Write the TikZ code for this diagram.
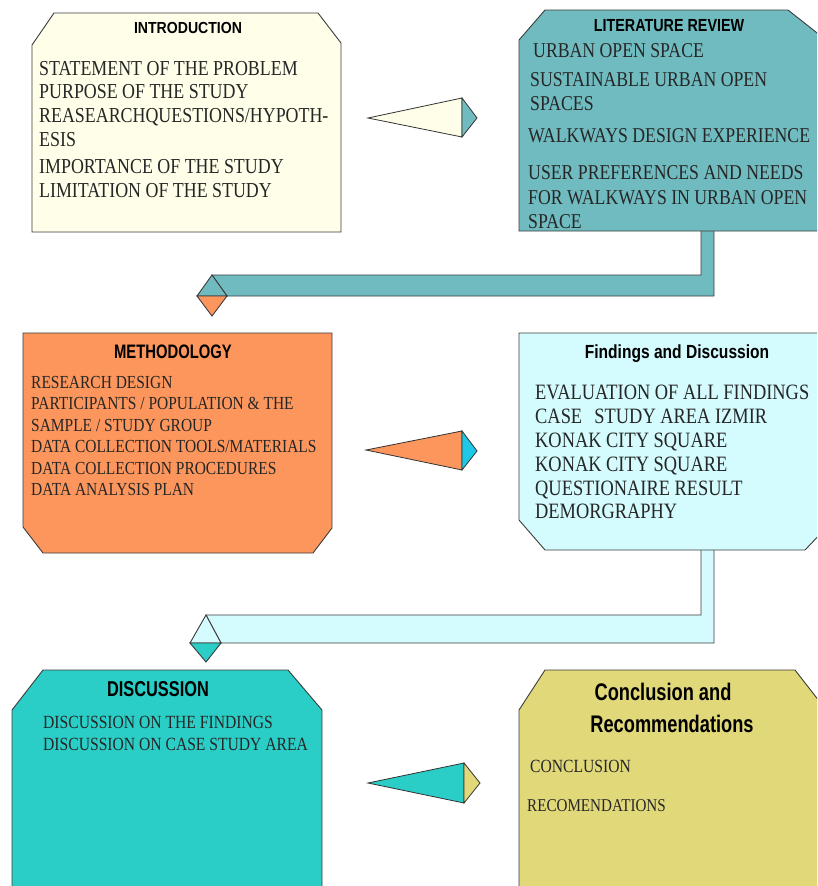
\documentclass[tikz,border=0pt]{standalone}
\usepackage{fontspec}
\setmainfont{Liberation Serif}
\newfontfamily\bodyfont[FakeStretch=0.84]{Liberation Serif}
\newfontfamily\ttlA[FakeStretch=0.88]{Liberation Sans}
\newfontfamily\ttlB[FakeStretch=0.82]{Liberation Sans}
\newfontfamily\ttlC[FakeStretch=0.76]{Liberation Sans}
\definecolor{cream}{RGB}{255,254,232}
\definecolor{tealc}{RGB}{112,187,192}
\definecolor{orangec}{RGB}{252,150,92}
\definecolor{lcyan}{RGB}{212,251,253}
\definecolor{turq}{RGB}{42,206,198}
\definecolor{khaki}{RGB}{225,216,122}
\definecolor{brcyan}{RGB}{30,200,230}
\definecolor{edgec}{RGB}{60,60,60}
\begin{document}
\begin{tikzpicture}[x=1pt,y=-1pt,
  box/.style={draw=edgec,line width=0.9pt,line join=miter},
  pipe/.style={draw=edgec,line width=0.9pt,line join=miter},
  wedge/.style={draw=black!80,line width=0.8pt,line join=miter},
  ttl/.style={inner sep=0pt,anchor=base,text=black},
  txt/.style={inner sep=0pt,anchor=base west,text=black!85}]
\useasboundingbox (0,0) rectangle (817,886);
\clip (0,0) rectangle (817,886);
% ---------- pipes ----------
\filldraw[pipe,fill=tealc] (701,228) -- (701,275) -- (212,275) -- (227,296) -- (714,296) -- (714,228);
\filldraw[pipe,fill=tealc] (212,275) -- (197,296) -- (227,296) -- cycle;
\filldraw[pipe,fill=orangec] (197,296) -- (212,316) -- (227,296) -- cycle;
\filldraw[pipe,fill=lcyan] (701,548) -- (701,615) -- (206,615) -- (221,643) -- (714,643) -- (714,548);
\filldraw[pipe,fill=lcyan] (206,615) -- (190,643) -- (221,643) -- cycle;
\filldraw[pipe,fill=turq] (190,643) -- (206,662) -- (221,643) -- cycle;
% ---------- boxes ----------
\filldraw[box,fill=cream] (32,45) -- (54,13) -- (318,13) -- (341,43) -- (341,232) -- (32,232) -- cycle;
\filldraw[box,fill=tealc] (519,40) -- (545,10) -- (788,10) -- (826,40) -- (826,231) -- (519,231) -- cycle;
\filldraw[box,fill=orangec] (23,333) -- (332,333) -- (332,528) -- (313,553) -- (43,553) -- (23,527) -- cycle;
\filldraw[box,fill=lcyan] (519,333) -- (826,333) -- (826,528) -- (805,550) -- (545,550) -- (519,520) -- cycle;
\filldraw[box,fill=turq] (12,710) -- (43,670) -- (288,670) -- (322,710) -- (322,900) -- (12,900) -- cycle;
\filldraw[box,fill=khaki] (519,710) -- (545,670) -- (795,670) -- (830,715) -- (830,900) -- (519,900) -- cycle;
% ---------- wedges ----------
\coordinate (w1t) at (368,118); \coordinate (w1a) at (462,98); \coordinate (w1b) at (462,137); \coordinate (w1c) at (477,118);
\filldraw[wedge,fill=cream] (w1t) -- (w1a) -- (w1b) -- cycle;
\filldraw[wedge,fill=tealc] (w1a) -- (w1c) -- (w1b) -- cycle;
\coordinate (w2t) at (366,450); \coordinate (w2a) at (462,431); \coordinate (w2b) at (462,470); \coordinate (w2c) at (477,451);
\filldraw[wedge,fill=orangec] (w2t) -- (w2a) -- (w2b) -- cycle;
\filldraw[wedge,fill=brcyan] (w2a) -- (w2c) -- (w2b) -- cycle;
\coordinate (w3t) at (368,783); \coordinate (w3a) at (464,763); \coordinate (w3b) at (464,803); \coordinate (w3c) at (480,783);
\filldraw[wedge,fill=turq] (w3t) -- (w3a) -- (w3b) -- cycle;
\filldraw[wedge,fill=khaki] (w3a) -- (w3c) -- (w3b) -- cycle;
% ---------- titles ----------
\node[ttl,font=\ttlA\bfseries\fontsize{16}{18}\selectfont] (t1) at (188,33) {INTRODUCTION};
\node[ttl,font=\ttlB\bfseries\fontsize{17.5}{20}\selectfont] (t2) at (669,31) {LITERATURE REVIEW};
\node[ttl,font=\ttlC\bfseries\fontsize{19.5}{22}\selectfont] (t3) at (173,358) {METHODOLOGY};
\node[ttl,font=\ttlB\bfseries\fontsize{19}{22}\selectfont] (t4) at (677,358) {Findings and Discussion};
\node[ttl,font=\ttlC\bfseries\fontsize{21.5}{24}\selectfont] (t5) at (158,696) {DISCUSSION};
\node[ttl,font=\ttlC\bfseries\fontsize{24}{26}\selectfont] (t6a) at (663,700) {Conclusion and};
\node[ttl,font=\ttlC\bfseries\fontsize{24}{26}\selectfont] (t6b) at (672,732) {Recommendations};
% ---------- body texts ----------
\foreach \yy/\t [count=\k] in {75/{STATEMENT OF THE PROBLEM},98.5/{PURPOSE OF THE STUDY},122/{REASEARCHQUESTIONS/HYPOTH-},146/{ESIS},173/{IMPORTANCE OF THE STUDY},197/{LIMITATION OF THE STUDY}}
  \node[txt,font=\bodyfont\fontsize{21.3}{22}\selectfont] (a\k) at (39,\yy) {\t};
\foreach \xx/\yy/\t [count=\k] in {533/57/{URBAN OPEN SPACE},530/86/{SUSTAINABLE URBAN OPEN},530/110/{SPACES},528/142/{WALKWAYS DESIGN EXPERIENCE},528/179/{USER PREFERENCES AND NEEDS},528/204/{FOR WALKWAYS IN URBAN OPEN},528/228/{SPACE}}
  \node[txt,font=\bodyfont\fontsize{21.1}{22}\selectfont] (b\k) at (\xx,\yy) {\t};
\foreach \yy/\t [count=\k] in {388/{RESEARCH DESIGN},409.5/{PARTICIPANTS / POPULATION \& THE},431/{SAMPLE / STUDY GROUP},452.5/{DATA COLLECTION TOOLS/MATERIALS},474/{DATA COLLECTION PROCEDURES},495.5/{DATA ANALYSIS PLAN}}
  \node[txt,font=\bodyfont\fontsize{18.4}{20}\selectfont] (c\k) at (31,\yy) {\t};
\foreach \yy/\t [count=\k] in {399/{EVALUATION OF ALL FINDINGS},423/{CASE\hspace{0.35em} STUDY AREA IZMIR},447/{KONAK CITY SQUARE},471/{KONAK CITY SQUARE},495/{QUESTIONAIRE RESULT},518/{DEMORGRAPHY}}
  \node[txt,font=\bodyfont\fontsize{21.9}{22}\selectfont] (d\k) at (535,\yy) {\t};
\foreach \yy/\t [count=\k] in {728/{DISCUSSION ON THE FINDINGS},750/{DISCUSSION ON CASE STUDY AREA}}
  \node[txt,font=\bodyfont\fontsize{18.6}{20}\selectfont] (e\k) at (43,\yy) {\t};
\node[txt,font=\bodyfont\fontsize{18.6}{20}\selectfont] (f1) at (530,772) {CONCLUSION};
\node[txt,font=\bodyfont\fontsize{18}{20}\selectfont] (f2) at (527,811) {RECOMENDATIONS};
\end{tikzpicture}
\end{document}
